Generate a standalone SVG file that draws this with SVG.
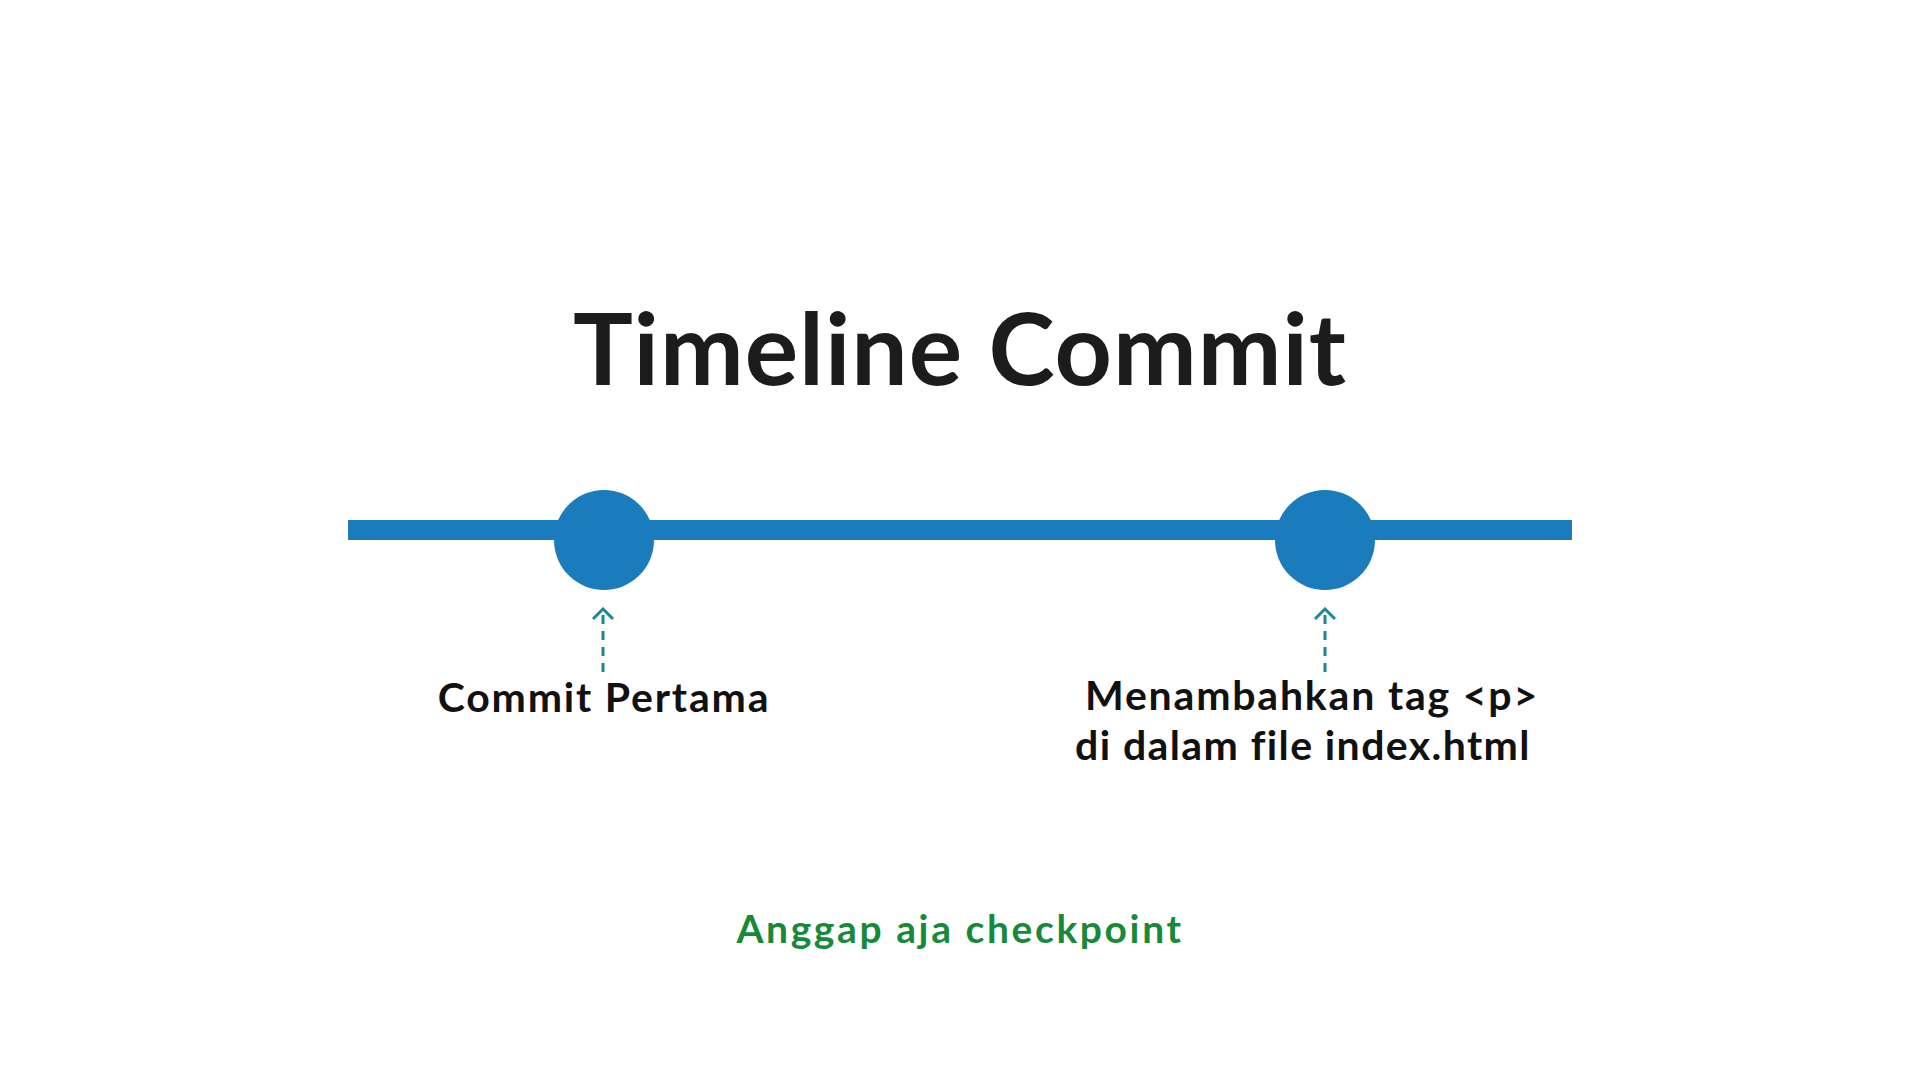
<svg xmlns="http://www.w3.org/2000/svg" width="1920" height="1080" viewBox="0 0 1920 1080">
<style>
.title{font-family:"Lato","Liberation Sans",sans-serif;font-weight:700;font-size:100px;letter-spacing:1px;fill:#1c1c1c}
.label{font-family:"Lato","Liberation Sans",sans-serif;font-weight:700;font-size:41px;letter-spacing:1.8px;fill:#111111}
.note{font-family:"Lato","Liberation Sans",sans-serif;font-weight:700;font-size:39px;letter-spacing:2.6px;fill:#178a3a}
.dot{fill:#1a7bbd}
.conn{stroke:#1a8a96;stroke-width:3;stroke-dasharray:9 7;fill:none}
</style>
<defs>
<marker id="chev" viewBox="0 0 14 24" refX="12" refY="12" markerWidth="14" markerHeight="24" markerUnits="userSpaceOnUse" orient="auto">
<polyline points="2,2 12,12 2,22" fill="none" stroke="#1a8a96" stroke-width="3"/>
</marker>
</defs>
<rect width="1920" height="1080" fill="#ffffff"/>
<text id="title" class="title" x="960" y="385" text-anchor="middle">Timeline Commit</text>
<rect id="timeline" x="348" y="520" width="1224" height="20" fill="#1a7bbd"/>
<g id="commit1"><circle class="dot" cx="604" cy="540" r="50"/></g>
<g id="commit2"><circle class="dot" cx="1325" cy="540" r="50"/></g>
<g id="connectors">
<line class="conn" x1="603" y1="672" x2="603" y2="609" marker-end="url(#chev)"/>
<line class="conn" x1="1325" y1="672" x2="1325" y2="609" marker-end="url(#chev)"/>
</g>
<g id="label1"><text class="label" x="604" y="712" text-anchor="middle">Commit Pertama</text></g>
<g id="label2">
<text class="label" x="1312" y="710" text-anchor="middle">Menambahkan tag &lt;p&gt;</text>
<text class="label" x="1303" y="760" text-anchor="middle" style="letter-spacing:1.4px">di dalam file index.html</text>
</g>
<g id="note"><text class="note" x="960" y="943" text-anchor="middle">Anggap aja checkpoint</text></g>
</svg>
